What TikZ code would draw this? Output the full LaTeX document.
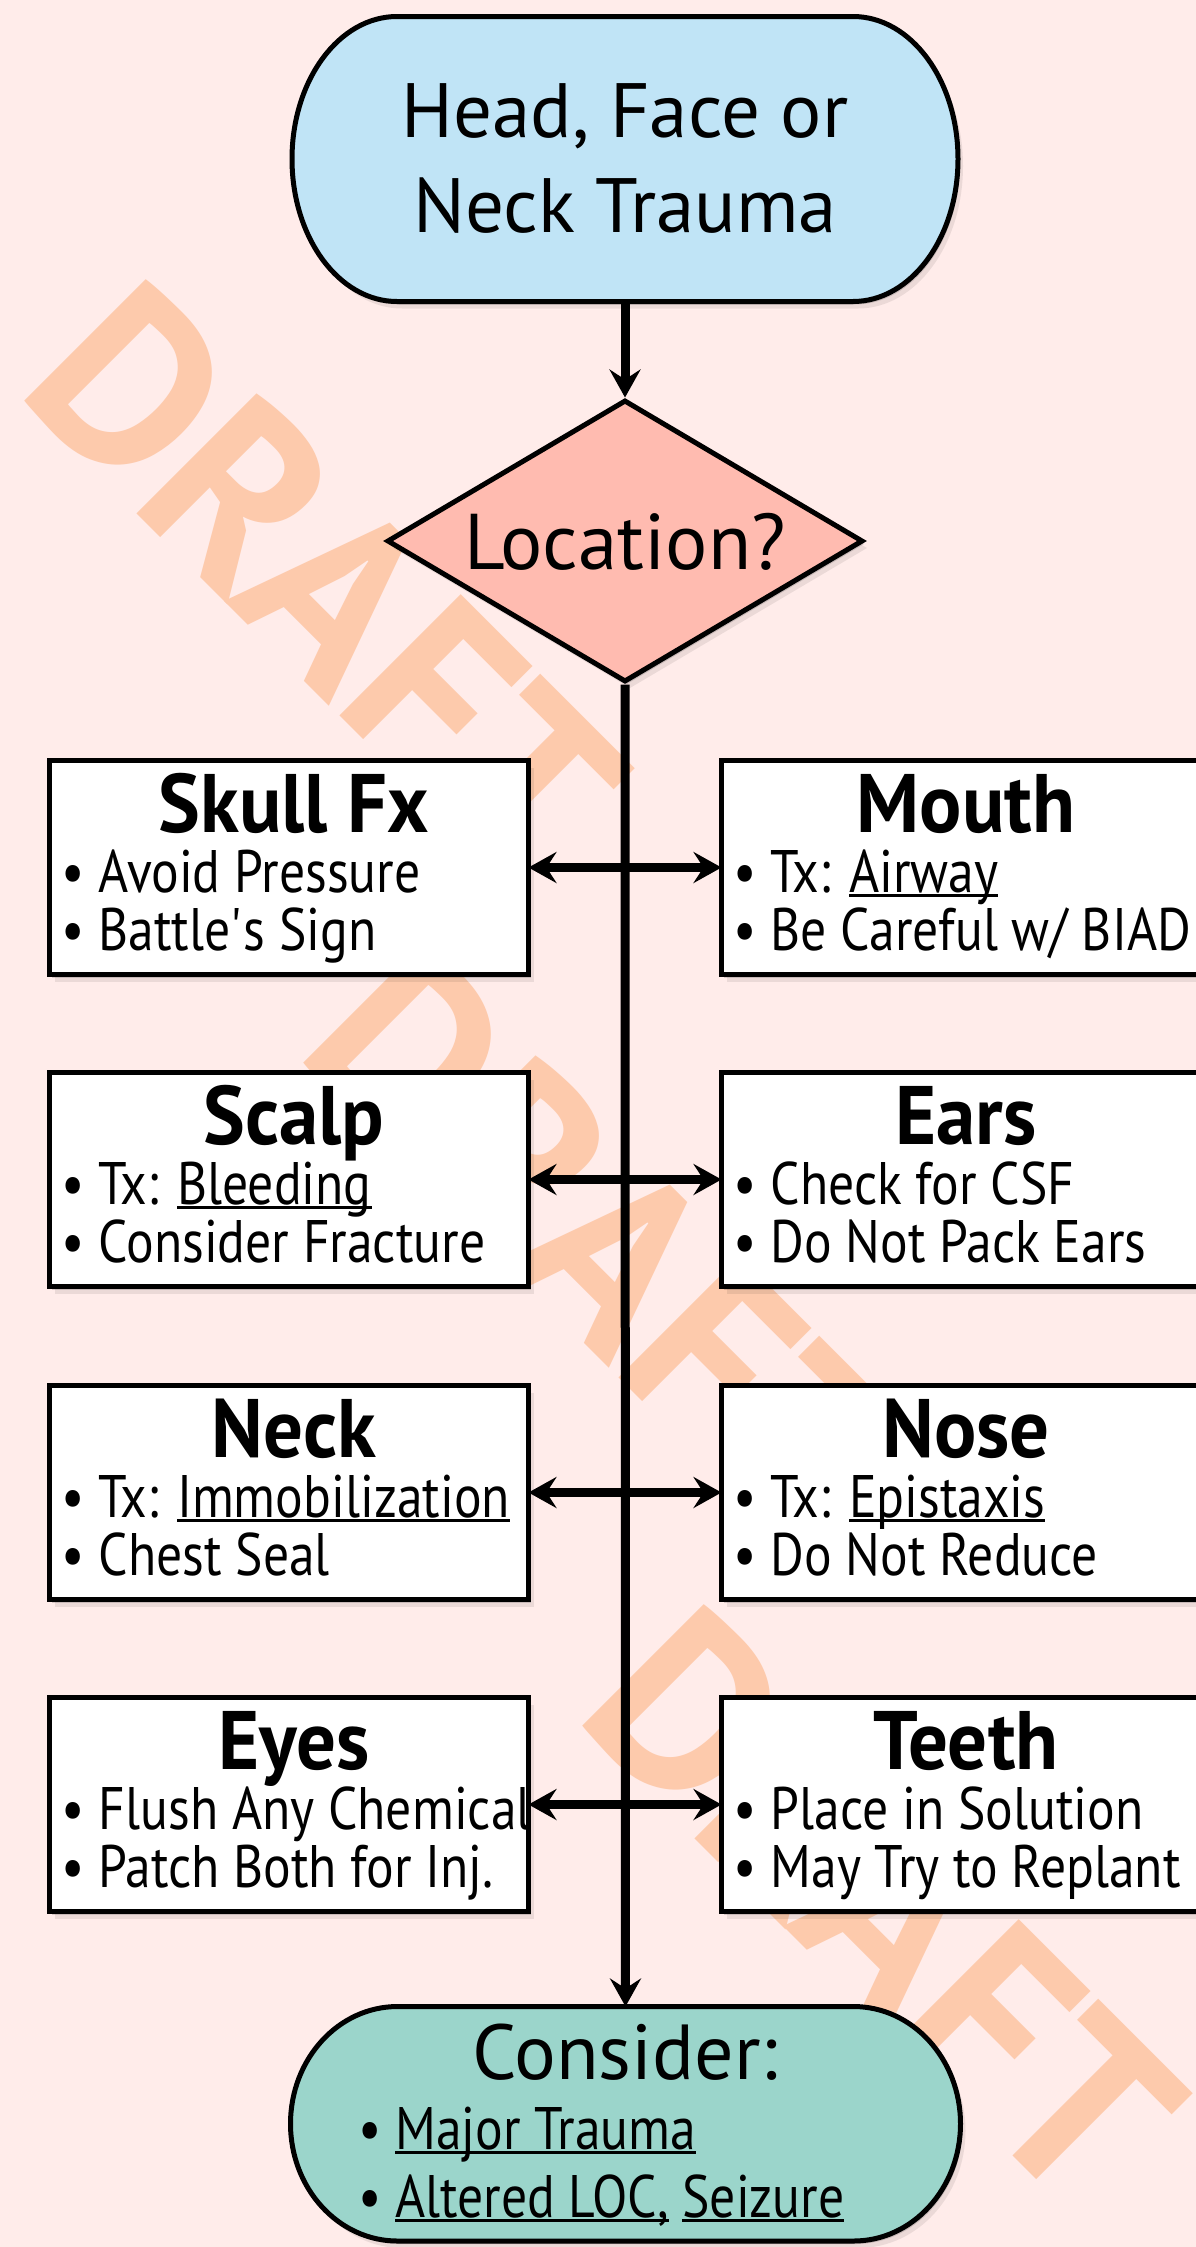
\documentclass[tikz,border=0pt]{standalone}
\usepackage{fontspec}
\setmainfont{PT Sans}[FakeStretch=0.86]
\newfontfamily\titlefont{PT Sans}[FakeStretch=0.95]
\newfontfamily\bigfont{PT Sans}
\newfontfamily\wmfont{PT Sans}
\usetikzlibrary{arrows.meta,shapes.geometric,shadows}
\definecolor{bgc}{RGB}{255,236,234}
\definecolor{wmc}{RGB}{253,202,172}
\definecolor{headc}{RGB}{192,228,246}
\definecolor{locc}{RGB}{255,187,176}
\definecolor{consc}{RGB}{155,213,203}
\newsavebox\ulbox
\newcommand\ulin[1]{\sbox\ulbox{#1}\rlap{\rule[-5pt]{\wd\ulbox}{2.6pt}}\usebox\ulbox}
\tikzset{
  softshadow/.style={drop shadow={shadow xshift=2pt,shadow yshift=-3pt,opacity=.15,fill=black},
                     drop shadow={shadow xshift=5pt,shadow yshift=-7pt,opacity=.08,fill=black}},
  ibox/.style={draw=black, fill=white, line width=5pt, minimum width=479pt, minimum height=214pt,
               inner sep=0pt, outer sep=0pt, anchor=north west, softshadow},
  ititle/.style={font=\titlefont\bfseries\fontsize{83}{90}\selectfont, inner sep=0pt, anchor=base},
  itext/.style={font=\fontsize{60}{70}\selectfont, inner sep=0pt, anchor=base west},
  termbox/.style={inner sep=0pt, outer sep=0pt, draw=none},
  termline/.style={draw=black, line width=5pt, softshadow},
  wm/.style={font=\wmfont\bfseries\fontsize{245}{245}\selectfont, text=wmc, rotate=-45, inner sep=0pt},
  >={Stealth[length=28pt,width=31pt,inset=10pt]},
  varrow/.style={draw=black, line width=9pt, ->},
  harrow/.style={draw=black, line width=9pt, <->},
}
\newcommand\infobox[6]{%
  \node[ibox] (#1) at (#2,#3) {};
  \node[ititle] (#1-t) at ([xshift=5pt,yshift=-71.5pt]#1.north) {#4};
  \node[itext] (#1-a) at ([xshift=12pt,yshift=-131.5pt]#1.north west) {#5};
  \node[itext] (#1-b) at ([xshift=12pt,yshift=-189.5pt]#1.north west) {#6};
}
\begin{document}
\begin{tikzpicture}[x=1pt,y=-1pt]
\fill[bgc] (0,0) rectangle (1196,2247);
\useasboundingbox (0,0) rectangle (1196,2247);
% watermark
\node[wm] (wm1) at (326,581) {DRAFT};
\node[wm] (wm2) at (605,1243) {DRAFT};
\node[wm] (wm3) at (884,1906) {DRAFT};
% top terminator
\node[termbox, minimum width=666pt, minimum height=285pt] (head) at (625,159) {};
\draw[termline, fill=headc] ([xshift=105pt]head.north west) -- ([xshift=-105pt]head.north east)
  arc[start angle=90, end angle=-90, x radius=105pt, y radius=142.5pt]
  -- ([xshift=105pt]head.south west)
  arc[start angle=270, end angle=90, x radius=105pt, y radius=142.5pt] -- cycle;
\node[font=\bigfont\fontsize{77}{95}\selectfont, align=center, inner sep=0pt] (headtxt) at (head.center) {Head, Face or\\Neck Trauma};
% decision
\node[shape=diamond, draw=black, fill=locc, line width=5pt, minimum width=476pt, minimum height=282pt,
      inner sep=0pt, softshadow] (loc) at (625,541) {};
\node[font=\bigfont\fontsize{79}{90}\selectfont, anchor=base, inner sep=0pt] (loc-t) at (625,569) {Location?};
% end terminator
\node[termbox, minimum width=670pt, minimum height=234.5pt] (cons) at (625.5,2123.75) {};
\draw[termline, fill=consc] ([xshift=107pt]cons.north west) -- ([xshift=-107pt]cons.north east)
  arc[start angle=90, end angle=-90, x radius=107pt, y radius=117.25pt]
  -- ([xshift=107pt]cons.south west)
  arc[start angle=270, end angle=90, x radius=107pt, y radius=117.25pt] -- cycle;
\node[font=\bigfont\fontsize{78}{90}\selectfont, anchor=base, inner sep=0pt] (cons-t) at (625,2079) {Consider:};
\node[itext] (cons-a) at (358,2149) {• \ulin{Major Trauma}};
\node[itext] (cons-b) at (358,2217) {• \ulin{Altered LOC,} \ulin{Seizure}};
% boxes
\infobox{skull}{49.5}{760.5}{Skull Fx}{• Avoid Pressure}{• Battle\textquotesingle s Sign}
\infobox{mouth}{721.5}{760.5}{Mouth}{• Tx: \ulin{Airway}}{• Be Careful w/ BIAD}
\infobox{scalp}{49.5}{1072.5}{Scalp}{• Tx: \ulin{Bleeding}}{• Consider Fracture}
\infobox{ears}{721.5}{1072.5}{Ears}{• Check for CSF}{• Do Not Pack Ears}
\infobox{neck}{49.5}{1385.5}{Neck}{• Tx: \ulin{Immobilization}}{• Chest Seal}
\infobox{nose}{721.5}{1385.5}{Nose}{• Tx: \ulin{Epistaxis}}{• Do Not Reduce}
\infobox{eyes}{49.5}{1697.5}{Eyes}{• Flush Any Chemical}{• Patch Both for Inj.}
\infobox{teeth}{721.5}{1697.5}{Teeth}{• Place in Solution}{• May Try to Replant}
% connectors
\draw[varrow] (head.south) -- (loc.north);
\draw[varrow] (loc.south) -- (cons.north);
\draw[harrow] (skull.east) -- (mouth.west);
\draw[harrow] (scalp.east) -- (ears.west);
\draw[harrow] (neck.east) -- (nose.west);
\draw[harrow] (eyes.east) -- (teeth.west);
\end{tikzpicture}
\end{document}
